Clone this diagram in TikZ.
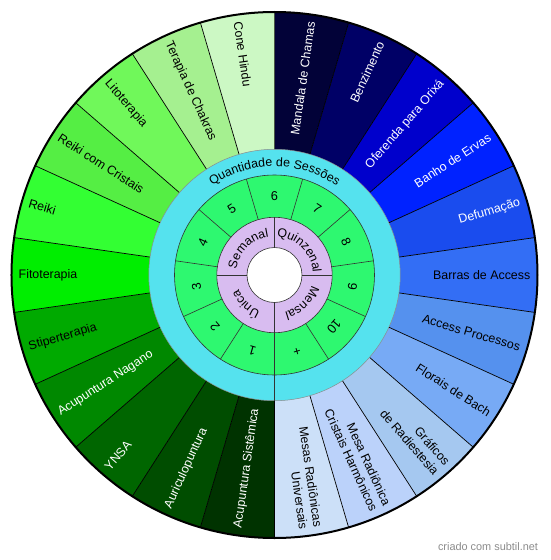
\documentclass[tikz,border=0pt]{standalone}
\usepackage{fontspec}
\setmainfont{Liberation Sans}
\usetikzlibrary{decorations.text}
\definecolor{cMand}{HTML}{020238}
\definecolor{cBenz}{HTML}{000066}
\definecolor{cOfer}{HTML}{0000CC}
\definecolor{cBanho}{HTML}{0022FF}
\definecolor{cDefu}{HTML}{1A4CEE}
\definecolor{cBarras}{HTML}{336EF5}
\definecolor{cAccP}{HTML}{5591EE}
\definecolor{cFlor}{HTML}{77AAF5}
\definecolor{cGraf}{HTML}{A5C8F0}
\definecolor{cMesa}{HTML}{BBD2FA}
\definecolor{cMesas}{HTML}{CCE0F8}
\definecolor{cAcuS}{HTML}{003300}
\definecolor{cAuri}{HTML}{004D00}
\definecolor{cYNSA}{HTML}{006600}
\definecolor{cAcuN}{HTML}{008800}
\definecolor{cStip}{HTML}{00AA00}
\definecolor{cFito}{HTML}{00EE00}
\definecolor{cReiki}{HTML}{33FF33}
\definecolor{cReikiC}{HTML}{55EE44}
\definecolor{cLito}{HTML}{70F85A}
\definecolor{cChak}{HTML}{A5F090}
\definecolor{cCone}{HTML}{CCF8C4}
\definecolor{cCyan}{HTML}{55E2EE}
\definecolor{cGreenR}{HTML}{2EF870}
\definecolor{cPurp}{HTML}{D8BCF0}
\definecolor{cFoot}{HTML}{8C8C8C}
\newcommand\mylblfont{\fontsize{12.4}{14.5}\selectfont}
\newcommand\mynumfont{\fontsize{12.8}{14.5}\selectfont}
\begin{document}
\begin{tikzpicture}[x=1pt,y=1pt,
  seg/.style={draw=black, line width=0.7pt},
  lblR/.style={anchor=east, inner sep=0pt, align=right, font=\mylblfont},
  lblL/.style={anchor=west, inner sep=0pt, align=left, font=\mylblfont},
  num/.style={inner sep=0pt, font=\mynumfont},
  ring/.style={draw=black!80, line width=0.6pt}]
\useasboundingbox (-274.5,-285) rectangle (275.5,275);
\fill[white] (-274.5,-285) rectangle (275.5,275);
% outer sectors
\def\stp{16.363636}
\foreach \c [count=\i from 0] in {cMand,cBenz,cOfer,cBanho,cDefu,cBarras,cAccP,cFlor,cGraf,cMesa,cMesas,cAcuS,cAuri,cYNSA,cAcuN,cStip,cFito,cReiki,cReikiC,cLito,cChak,cCone} {
  \pgfmathsetmacro\aS{90-\i*\stp}
  \pgfmathsetmacro\aE{90-(\i+1)*\stp}
  \fill[\c] (0,0) -- (\aS:263) arc[start angle=\aS, end angle=\aE, radius=263] -- cycle;
  \draw[seg] (0,0) -- (\aS:263);
}
% right labels
\node[lblR, text=white, rotate=81.818] (lMand) at (81.818:256) {Mandala de Chamas};
\node[lblR, text=white, rotate=65.455] (lBenz) at (65.455:256) {Benzimento};
\node[lblR, text=white, rotate=49.091] (lOfer) at (49.091:256) {Oferenda para Orixá};
\node[lblR, text=white, rotate=32.727] (lBanho) at (32.727:256) {Banho de Ervas};
\node[lblR, text=white, rotate=16.364] (lDefu) at (16.364:256) {Defumação};
\node[lblR, rotate=0] (lBarras) at (0:256) {Barras de Access};
\node[lblR, rotate=-16.364] (lAccP) at (-16.364:256) {Access Processos};
\node[lblR, rotate=-32.727] (lFlor) at (-32.727:256) {Florais de Bach};
\node[lblR, rotate=-49.091] (lGraf) at (-49.091:256) {Gráficos\\de Radiestesia};
\node[lblR, rotate=-65.455] (lMesa) at (-65.455:256) {Mesa Radiônica\\Cristais Harmônicos};
\node[lblR, rotate=-81.818] (lMesas) at (-81.818:256) {Mesas Radiônicas\\Universais};
% left labels
\node[lblL, text=white, rotate=81.818] (lAcuS) at (261.818:256) {Acupuntura Sistêmica};
\node[lblL, text=white, rotate=65.455] (lAuri) at (245.455:256) {Auriculopuntura};
\node[lblL, text=white, rotate=49.091] (lYNSA) at (229.091:256) {YNSA};
\node[lblL, text=white, rotate=32.727] (lAcuN) at (212.727:256) {Acupuntura Nagano};
\node[lblL, rotate=16.364] (lStip) at (196.364:256) {Stiperterapia};
\node[lblL, rotate=0] (lFito) at (180:256) {Fitoterapia};
\node[lblL, rotate=-16.364] (lReiki) at (163.636:256) {Reiki};
\node[lblL, rotate=-32.727] (lReikiC) at (147.273:256) {Reiki com Cristais};
\node[lblL, rotate=-49.091] (lLito) at (130.909:256) {Litoterapia};
\node[lblL, rotate=-65.455] (lChak) at (114.545:256) {Terapia de Chakras};
\node[lblL, rotate=-81.818] (lCone) at (98.182:256) {Cone Hindu};
% inner rings
\fill[cCyan] (0,0) circle (125.7);
\draw[draw=black!45, line width=0.5pt] (0,0) circle (125.7);
\fill[cGreenR] (0,0) circle (100);
\fill[cPurp] (0,0) circle (57.7);
\fill[white] (0,0) circle (27.5);
\draw[ring] (0,0) circle (100);
\draw[ring] (0,0) circle (57.7);
\draw[ring] (0,0) circle (27.5);
\draw[ring] (270:100) -- (270:125.7);
\foreach \k in {0,...,10} {
  \pgfmathsetmacro\b{270-\k*32.727273}
  \draw[ring] (\b:57.7) -- (\b:100);
}
\foreach \b in {0,90,180,270} {
  \draw[ring] (\b:27.5) -- (\b:57.7);
}
% numbers
\foreach \t [count=\k] in {1,2,3,4,5,6,7,8,9,10,+} {
  \pgfmathsetmacro\a{270-(\k-0.5)*32.727273}
  \pgfmathsetmacro\rr{\a-90}
  \node[num, rotate=\rr] (n\k) at (\a:78.85) {\t};
}
% arc texts
\path[decorate, decoration={text along path, text={|\mylblfont|Quantidade de Sessões}, text align=center}]
  (180:108.5) arc[start angle=180, end angle=0, radius=108.5];
\path[decorate, decoration={text along path, text={|\mylblfont|Semanal}, text align=center}]
  (180:38.5) arc[start angle=180, end angle=90, radius=38.5];
\path[decorate, decoration={text along path, text={|\mylblfont|Quinzenal}, text align=center}]
  (90:38.5) arc[start angle=90, end angle=0, radius=38.5];
\path[decorate, decoration={text along path, text={|\mylblfont|Mensal}, text align=center}]
  (0:38.5) arc[start angle=0, end angle=-90, radius=38.5];
\path[decorate, decoration={text along path, text={|\mylblfont|Única}, text align=center}]
  (-90:38.5) arc[start angle=-90, end angle=-180, radius=38.5];
% outer border
\draw[line width=2pt] (0,0) circle (263);
% footer
\node[font=\fontsize{10.9}{13}\selectfont, text=cFoot, inner sep=0pt] (foot) at (213.5,-272) {criado com subtil.net};
\end{tikzpicture}
\end{document}
